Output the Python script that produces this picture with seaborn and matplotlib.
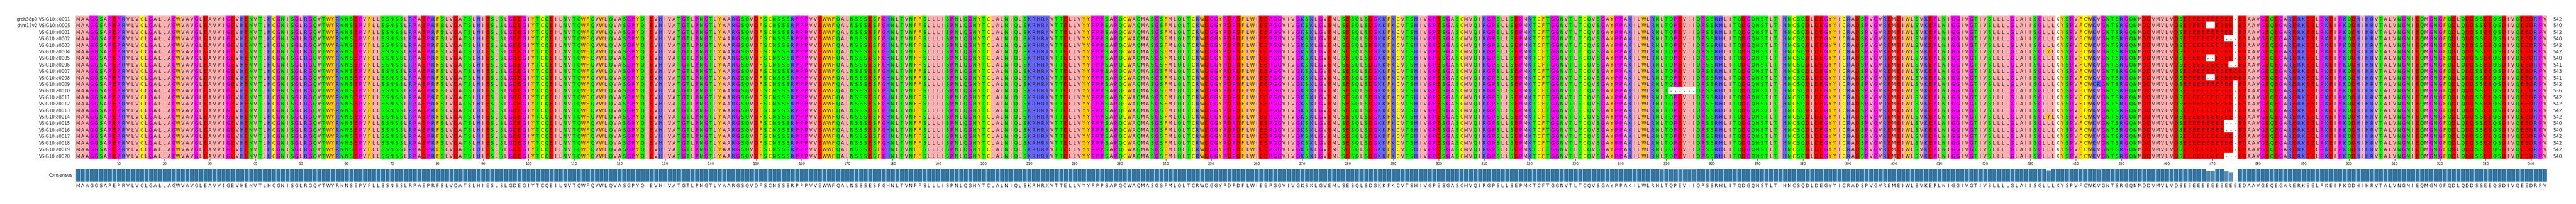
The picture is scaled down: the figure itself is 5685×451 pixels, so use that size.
import numpy as np
import pandas as pd
import matplotlib
matplotlib.use("Agg")
import matplotlib.pyplot as plt
from matplotlib.colors import ListedColormap, to_rgb
import seaborn as sns

sns.set_style("white")
plt.rcParams['font.family'] = ['DejaVu Sans']

# ---------------- data ----------------
names = ["grch38p0:VSIG10:a0001", "chm13v2:VSIG10:a0005"] + \
        ["VSIG10:a%04d" % i for i in range(1, 21)]

consensus_parts = [
    "MAAGGSAPEPRVLVCLGALLAGWVAVGLEAVVIGEVHENVTLHCGNISGLRGQVTWYRNNSEPVFLLSS",
    "NSSLRPAEPRFSLVDATSLHIESLSLGDEGIYTCQEILNVTQWFQVWLQVASGPYQIEVHIVATGTLP",
    "NGTLYAARGSQVDFSCNSSSRPPPVVEWWFQALNSSSESFGHNLTVNFFSLLLISPNLQGNYTCLALN",
    "IQLSKRHRKVTTELLVYYPPPSAPQCWAQMASGSFMLQLTCRWDGGYPDPDFLWIEEPGGVIVGKSKLGV",
    "EMLSESQLSDGKKFKCVTSHIVGPESGASCMVQIRGPSLLSEPMKTCFTGGNVTLTCQVSGAYPPAKIL",
    "WLRNLTQPEVIIQPSSRHLITQDGQNSTLTIHNCSQDLDEGYYICRADSPVGVREMEIWLSVKEPLNI",
    "GGIVGTIVSLLLLGLAIISGLLLXYSPVFCWKVGNTSRGQNMDDVMVLVDSEEEEEEEEEEEEEDAAV",
    "GEQEGARERKEELPKEIPKQDHIHRVTALVNGNIEQMGNGFQDLQDDSSEEQSDIVQEEDRPV",
]
# per-row gap columns (1-based alignment columns)
gap_cols = {
    0: [475], 1: [469, 470, 475], 2: [475], 3: [473, 474, 475], 4: [475],
    5: [475], 6: [469, 470, 475], 7: [474, 475], 8: [], 9: [469, 470],
    10: [475], 11: [351, 352, 353, 354, 355, 356, 475], 12: [475], 13: [475],
    14: [475], 15: [475], 16: [473, 474, 475], 17: [473, 474, 475],
    18: [475], 19: [475], 20: [475], 21: [473, 474, 475],
}
# substitutions (row, column, residue)
substitutions = [(10, 445, "R"), (11, 349, "I"), (5, 434, "Y"), (15, 434, "Y")]

zappo = {
    **{a: "#ffafaf" for a in "ILVAM"}, **{a: "#ffc800" for a in "FWY"},
    **{a: "#6464ff" for a in "KRH"}, **{a: "#ff0000" for a in "DE"},
    **{a: "#00ff00" for a in "STNQ"}, **{a: "#ff00ff" for a in "PG"},
    "C": "#ffff00", "X": "#ffffff", "-": "#ffffff",
}

# ---------------- build alignment ----------------
consensus = "".join(consensus_parts)
ncol = len(consensus)
rows = []
for r in range(len(names)):
    s = list(consensus)
    for c in gap_cols[r]:
        s[c - 1] = "-"
    rows.append(s)
for r, c, a in substitutions:
    rows[r][c - 1] = a

alphabet = list(zappo.keys())
idx = {a: i for i, a in enumerate(alphabet)}
codes = pd.DataFrame([[idx[a] for a in s] for s in rows], index=names)
cmap = ListedColormap([zappo[a] for a in alphabet])

W, H = 5685, 452
fig = plt.figure(figsize=(W / 100, H / 100), dpi=100)
ax = fig.add_axes([167 / W, 1 - 352 / H, (5621 - 167) / W, 317 / H])
sns.heatmap(codes, cmap=cmap, vmin=-0.5, vmax=len(alphabet) - 0.5,
            cbar=False, ax=ax, xticklabels=False, yticklabels=False)
for r, s in enumerate(rows):
    for c, a in enumerate(s):
        ax.text(c + 0.5, r + 0.55, a, ha="center", va="center", fontsize=7.3,
                color="#222222")
    ax.text(-1.2, r + 0.55, names[r], ha="right", va="center", fontsize=7)
    ax.text(ncol + 1.3, r + 0.55, str(sum(a != "-" for a in s)),
            ha="left", va="center", fontsize=7.5)
ticks = np.arange(10, ncol + 1, 10)
ax.set_xticks(ticks - 0.5)
ax.set_xticklabels([str(t) for t in ticks], fontsize=5.5, rotation=0)
ax.tick_params(axis="x", length=3, width=0.6, pad=1, bottom=True)
ax.set_yticks([])
for sp in ax.spines.values():
    sp.set_visible(False)

# consensus identity bars
ident = []
for c in range(ncol):
    col = [s[c] for s in rows]
    ident.append(sum(a == consensus[c] for a in col) / len(col))
base = np.array(to_rgb("#1f77b4"))
bar_colors = [tuple(1 - (1 - base) * v) for v in ident]
cdf = pd.DataFrame({"pos": np.arange(ncol), "identity": ident})
cax = fig.add_axes([167 / W, 1 - 403 / H, (5621 - 167) / W, 29 / H])
sns.barplot(data=cdf, x="pos", y="identity", hue="pos", palette=bar_colors,
            legend=False, width=1.0, edgecolor="#c8dcec", linewidth=0.8, ax=cax)
cax.set_xlim(-0.5, ncol - 0.5)
cax.set_ylim(0, 1)
cax.set_xticks([]); cax.set_yticks([])
cax.set_xlabel(""); cax.set_ylabel("")
for sp in cax.spines.values():
    sp.set_visible(False)
for c, a in enumerate(consensus):
    cax.text(c, -0.28, a, ha="center", va="center", fontsize=7.3, color="#222222")
cax.text(-1.2, 0.5, "Consensus", ha="right", va="center", fontsize=7)

fig.savefig("out.png", dpi=100)
